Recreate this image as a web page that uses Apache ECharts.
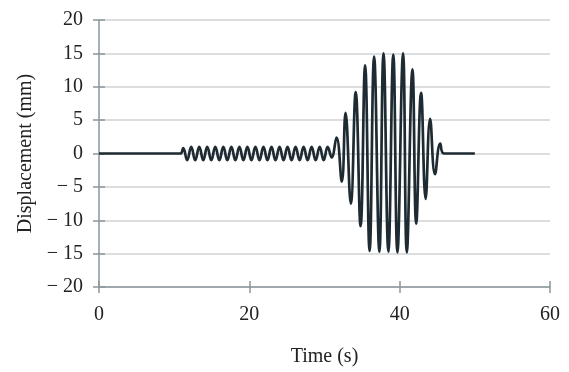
<!DOCTYPE html>
<html>
<head>
<meta charset="utf-8">
<script src="https://cdn.jsdelivr.net/npm/echarts@6/dist/echarts.min.js"></script>
<style>
html,body{margin:0;padding:0;background:#fff;}
#chart{width:569px;height:372px;}
</style>
</head>
<body>
<div id="chart"></div>
<script>
// Time (s) values of the traced displacement curve (turning points)
var timeValues = [
  0, 10.8,
  11.20, 11.73, 12.27, 12.80, 13.34, 13.87, 14.40, 14.94, 15.47, 16.01,
  16.54, 17.07, 17.61, 18.14, 18.68, 19.21, 19.74, 20.28, 20.81, 21.35,
  21.88, 22.41, 22.95, 23.48, 24.02, 24.55, 25.08, 25.62, 26.15, 26.69,
  27.22, 27.75, 28.29, 28.82, 29.36, 29.89, 30.42, 30.95,
  31.6, 32.3, 32.8, 33.5, 34.15, 34.8, 35.4, 36.0, 36.6, 37.3,
  37.85, 38.5, 39.15, 39.7, 40.45, 40.95, 41.7, 42.2, 42.85, 43.45,
  44.05, 44.7, 45.4, 45.9, 50.0
];
// Displacement (mm) at those times
var dispValues = [
  0, 0,
  0.8, -1.0, 1.0, -1.0, 1.0, -1.0, 1.0, -1.0, 1.0, -1.0,
  1.0, -1.0, 1.0, -1.0, 1.0, -1.0, 1.0, -1.0, 1.0, -1.0,
  1.0, -1.0, 1.0, -1.0, 1.0, -1.0, 1.0, -1.0, 1.0, -1.0,
  1.0, -1.0, 1.0, -1.0, 1.0, -1.0, 1.0, -0.6,
  2.4, -4.2, 6.1, -7.5, 9.2, -10.9, 13.2, -14.6, 14.5, -14.7,
  15.0, -14.7, 14.8, -14.8, 15.0, -14.8, 12.6, -10.5, 9.1, -6.8,
  5.2, -3.1, 1.5, 0, 0
];
var xTicks = [0, 20, 40, 60];
var yTicks = [-20, -15, -10, -5, 0, 5, 10, 15, 20];

var seriesData = timeValues.map(function (t, i) { return [t, dispValues[i]]; });

var fontFam = '"Liberation Serif", "DejaVu Serif", serif';
var axisCol = '#8c969c';
var chart = echarts.init(document.getElementById('chart'), null, {renderer: 'canvas'});
var yFmt = function (v) { return v < 0 ? '\u2212 ' + (-v) : String(v); };

chart.setOption({
  animation: false,
  backgroundColor: '#ffffff',
  grid: {left: 99, right: 19, top: 20, bottom: 83},
  xAxis: [{
    type: 'value', position: 'bottom',
    min: xTicks[0], max: xTicks[xTicks.length - 1], interval: 20,
    name: 'Time (s)', nameLocation: 'middle', nameGap: 60,
    nameTextStyle: {fontFamily: fontFam, fontSize: 20, color: '#222'},
    axisLine: {show: true, onZero: false, lineStyle: {color: axisCol, width: 1.5}},
    axisTick: {show: true, length: 6, lineStyle: {color: axisCol, width: 1.5}},
    axisLabel: {fontFamily: fontFam, fontSize: 20, color: '#222', margin: 18},
    splitLine: {show: false}
  }, {
    type: 'value', position: 'bottom', offset: 0,
    min: xTicks[0], max: xTicks[xTicks.length - 1], interval: 20,
    axisLine: {show: false, onZero: false},
    axisTick: {show: true, inside: true, length: 6, lineStyle: {color: axisCol, width: 1.5}},
    axisLabel: {show: false},
    splitLine: {show: false}
  }],
  yAxis: [{
    type: 'value', position: 'left',
    min: yTicks[0], max: yTicks[yTicks.length - 1], interval: 5,
    name: 'Displacement (mm)', nameLocation: 'middle', nameGap: 62,
    nameTextStyle: {fontFamily: fontFam, fontSize: 20, color: '#222'},
    axisLine: {show: true, onZero: false, lineStyle: {color: axisCol, width: 1.5}},
    axisTick: {show: true, length: 6, lineStyle: {color: axisCol, width: 1.5}},
    axisLabel: {fontFamily: fontFam, fontSize: 20, color: '#222', margin: 16, formatter: yFmt},
    splitLine: {show: true, lineStyle: {color: '#cfd2d4', width: 1.5}}
  }, {
    type: 'value', position: 'left', offset: 0,
    min: yTicks[0], max: yTicks[yTicks.length - 1], interval: 5,
    axisLine: {show: false, onZero: false},
    axisTick: {show: true, inside: true, length: 6, lineStyle: {color: axisCol, width: 1.5}},
    axisLabel: {show: false},
    splitLine: {show: false}
  }],
  series: [{
    type: 'line',
    xAxisIndex: 0, yAxisIndex: 0,
    data: seriesData,
    smooth: 0.45,
    showSymbol: false,
    lineStyle: {color: '#1f2b32', width: 2.7}
  }]
});
</script>
</body>
</html>
